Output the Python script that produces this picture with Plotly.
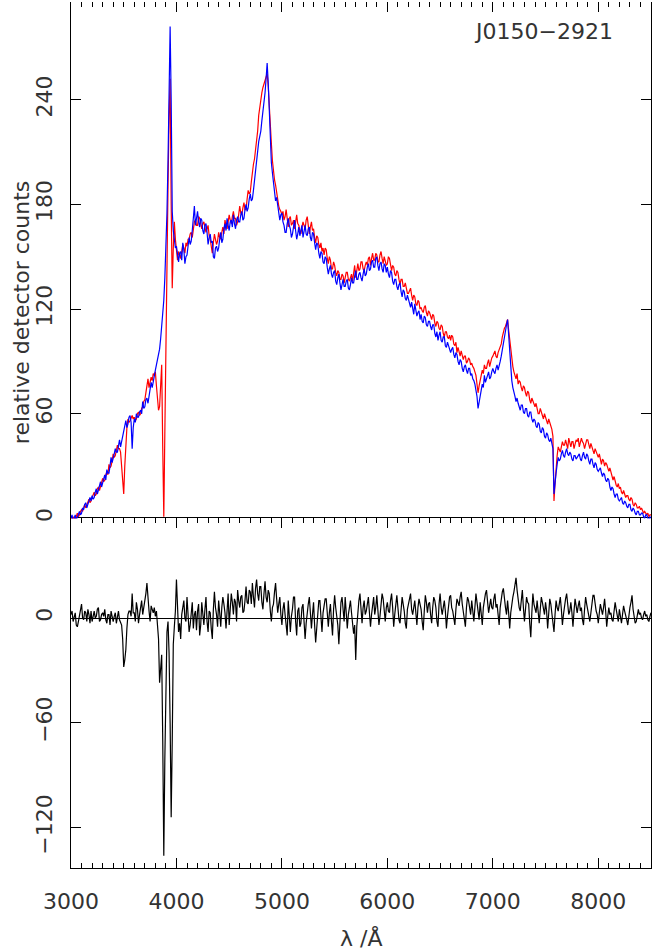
import plotly.graph_objects as go
from plotly.subplots import make_subplots

# spectrum sampled on a regular grid: 3000 Å onwards, 10 Å per sample
WAVE_START = 3000
WAVE_STEP = 10

# blue spectrum, relative detector counts (one row = 200 Å)
BLUE_COUNTS = [
    0, 2, -2, 1, 2, -1, 1, 3, 4, 2, 3, 6, 5, 8, 9, 6, 8, 11, 12, 10,
    13, 11, 12, 15, 17, 14, 16, 19, 21, 18, 20, 23, 25, 22, 28, 26, 26, 30, 35, 32,
    34, 37, 40, 38, 38, 42, 45, 41, 44, 48, 49, 53, 56, 52, 54, 58, 59, 55, 40, 52,
    57, 55, 60, 58, 58, 61, 62, 60, 67, 63, 64, 68, 69, 66, 71, 74, 78, 75, 79, 82,
    85, 88, 91, 95, 97, 103, 110, 116, 125, 138, 152, 175, 205, 250, 282, 240, 176, 165, 160, 155,
    156, 150, 147, 152, 153, 148, 158, 154, 146, 150, 151, 156, 161, 157, 159, 165, 173, 179, 168, 172,
    176, 170, 167, 172, 171, 165, 163, 168, 169, 164, 157, 161, 163, 158, 159, 150, 149, 155, 156, 153,
    155, 160, 164, 158, 160, 166, 169, 165, 172, 168, 165, 170, 171, 167, 174, 169, 166, 171, 173, 170,
    170, 174, 176, 171, 172, 177, 180, 176, 178, 183, 186, 182, 183, 188, 194, 198, 204, 210, 216, 219,
    222, 228, 233, 238, 244, 252, 261, 250, 234, 218, 204, 198, 193, 188, 182, 184, 180, 176, 171, 174,
    175, 170, 168, 164, 164, 169, 172, 168, 166, 161, 163, 167, 171, 165, 160, 163, 167, 162, 165, 168,
    161, 165, 168, 163, 162, 166, 167, 161, 159, 164, 163, 158, 154, 158, 157, 152, 149, 153, 152, 147,
    146, 150, 149, 144, 140, 143, 145, 140, 138, 141, 142, 136, 134, 138, 140, 135, 131, 134, 137, 133,
    133, 136, 137, 132, 131, 134, 138, 135, 135, 139, 142, 137, 137, 140, 141, 138, 136, 140, 143, 139,
    140, 144, 146, 142, 143, 147, 148, 144, 144, 149, 150, 145, 142, 146, 147, 143, 141, 146, 145, 141,
    144, 140, 138, 142, 141, 136, 134, 137, 137, 133, 131, 134, 135, 130, 127, 131, 130, 126, 125, 128,
    126, 123, 121, 124, 119, 117, 123, 120, 116, 118, 119, 114, 117, 113, 112, 116, 115, 111, 110, 113,
    113, 110, 108, 111, 111, 106, 104, 107, 102, 105, 107, 102, 101, 104, 104, 99, 98, 101, 99, 96,
    95, 97, 98, 94, 92, 95, 94, 90, 88, 91, 90, 86, 84, 87, 88, 85, 83, 86, 86, 82,
    83, 80, 79, 77, 74, 70, 63, 66, 71, 74, 77, 75, 82, 78, 80, 83, 84, 80, 81, 84,
    86, 84, 83, 86, 88, 85, 87, 90, 93, 97, 101, 104, 107, 111, 114, 104, 94, 86, 79, 75,
    73, 70, 67, 69, 66, 63, 62, 65, 65, 61, 60, 63, 63, 59, 58, 61, 61, 57, 55, 57,
    56, 53, 52, 55, 54, 50, 49, 52, 51, 47, 46, 49, 48, 45, 44, 46, 43, 40, 14, 22,
    26, 31, 35, 33, 34, 37, 39, 36, 35, 38, 40, 37, 36, 38, 37, 34, 33, 36, 36, 34,
    35, 36, 37, 34, 33, 36, 38, 35, 34, 37, 36, 33, 31, 34, 34, 31, 29, 32, 31, 28,
    27, 28, 29, 26, 24, 26, 25, 22, 21, 23, 22, 18, 16, 18, 17, 14, 12, 14, 14, 11,
    10, 11, 12, 9, 8, 10, 9, 7, 6, 8, 8, 5, 4, 6, 5, 3, 2, 4, 4, 2,
    2, 3, 3, 1, 0, 2, 2, 0, -1, 1, 0,
]

# red spectrum, relative detector counts (one row = 200 Å)
RED_COUNTS = [
    1, -1, 0, 1, -1, 2, 3, 1, 2, 4, 5, 4, 7, 8, 6, 8, 10, 11, 9, 10,
    12, 14, 15, 13, 14, 17, 18, 16, 19, 21, 23, 21, 22, 25, 27, 25, 31, 29, 30, 33,
    37, 35, 36, 39, 42, 40, 40, 38, 30, 20, 14, 30, 45, 52, 57, 55, 56, 58, 59, 57,
    58, 56, 57, 60, 61, 59, 60, 63, 64, 67, 68, 72, 78, 80, 75, 78, 81, 79, 83, 82,
    84, 76, 68, 62, 64, 74, 88, 40, 1, 50, 110, 150, 190, 230, 252, 180, 132, 155, 170, 160,
    152, 148, 153, 150, 149, 153, 157, 155, 152, 158, 156, 160, 160, 163, 164, 161, 166, 170, 171, 168,
    168, 173, 172, 168, 166, 169, 170, 167, 164, 166, 168, 162, 160, 156, 152, 158, 163, 160, 157, 159,
    164, 161, 160, 164, 167, 163, 171, 168, 166, 170, 174, 171, 169, 173, 176, 172, 172, 168, 170, 174,
    179, 175, 174, 178, 181, 177, 177, 183, 188, 186, 187, 193, 199, 203, 206, 211, 214, 222, 231, 236,
    240, 244, 247, 249, 251, 254, 255, 248, 239, 226, 215, 205, 198, 194, 191, 186, 181, 179, 177, 176,
    174, 176, 171, 173, 177, 170, 167, 172, 173, 168, 169, 171, 166, 170, 174, 169, 168, 165, 163, 167,
    170, 168, 166, 171, 173, 168, 163, 167, 170, 165, 166, 161, 158, 162, 161, 157, 155, 158, 153, 155,
    151, 155, 154, 149, 146, 150, 148, 143, 143, 147, 145, 141, 139, 142, 141, 137, 137, 140, 139, 135,
    138, 141, 141, 137, 136, 139, 140, 136, 142, 145, 138, 141, 146, 142, 143, 147, 147, 143, 142, 145,
    147, 145, 149, 150, 145, 149, 152, 148, 148, 152, 151, 147, 147, 151, 153, 149, 146, 150, 148, 145,
    146, 150, 149, 145, 142, 145, 144, 140, 139, 142, 141, 137, 134, 137, 137, 133, 133, 135, 131, 129,
    129, 131, 132, 128, 125, 128, 127, 123, 122, 125, 124, 120, 121, 119, 118, 121, 122, 118, 116, 119,
    118, 116, 114, 117, 116, 112, 110, 113, 112, 109, 108, 111, 110, 106, 104, 107, 107, 104, 103, 105,
    102, 105, 104, 100, 99, 101, 95, 98, 96, 93, 96, 94, 91, 93, 93, 89, 90, 92, 91, 88,
    89, 87, 86, 84, 82, 77, 72, 76, 79, 83, 85, 83, 88, 86, 86, 89, 91, 87, 90, 92,
    93, 95, 96, 93, 92, 95, 97, 99, 100, 104, 107, 109, 110, 113, 114, 108, 102, 95, 90, 87,
    84, 82, 80, 83, 77, 79, 78, 75, 73, 76, 75, 72, 70, 73, 72, 68, 66, 69, 67, 65,
    64, 66, 62, 60, 60, 63, 61, 58, 57, 60, 58, 55, 54, 57, 55, 52, 51, 47, 10, 20,
    31, 36, 41, 39, 38, 41, 44, 42, 42, 45, 43, 40, 46, 44, 41, 44, 44, 40, 42, 45,
    44, 46, 41, 43, 46, 44, 43, 40, 42, 45, 45, 42, 40, 43, 41, 38, 37, 40, 38, 36,
    35, 37, 33, 31, 34, 33, 30, 32, 31, 28, 27, 29, 26, 24, 22, 24, 21, 19, 18, 20,
    17, 18, 15, 14, 16, 14, 12, 13, 13, 11, 10, 12, 11, 8, 7, 9, 8, 6, 6, 7,
    5, 6, 4, 3, 4, 3, 2, 3, 1, 2, 2,
]

# lower panel: residual counts (one row = 200 Å)
RESIDUAL = [
    2, 4, -2, 1, 3, -4, -5, -2, 1, 3, 8, 0, -1, 4, 3, -2, 5, 2, -3, 4,
    -2, 1, 4, 0, 1, 5, 6, -2, -1, 2, 3, 1, 5, -1, -3, 2, 2, -4, 4, 1,
    -2, 1, 3, -3, 1, 4, -1, -3, -4, -12, -28, -24, -18, -6, 2, 4, 4, 1, 14, 3,
    3, -2, 9, 5, -3, 2, 6, 10, 2, 6, 8, 14, 20, 9, 4, -2, 7, 5, 3, 6,
    1, 4, -5, -12, -37, -30, -21, -70, -136, -80, -30, -8, -2, -20, -60, -114, -70, -15, -5, 4,
    22, 6, -8, -3, -12, 2, 5, 10, 0, -2, 12, 3, -8, -4, 6, 9, -6, 2, 4, -7,
    4, 8, -10, -4, 9, 3, -4, 5, 12, -2, -8, 4, 3, -6, -12, 5, 15, 6, 2, -5,
    10, 3, -5, 6, 12, 8, 3, -6, 8, 14, -4, 5, 14, 9, 2, 11, 9, -2, 16, 10,
    6, 12, 13, 3, 4, 10, 18, 9, 8, 16, 15, 8, 20, 12, 6, 17, 22, 14, 10, 18,
    18, 9, 5, 14, 21, 12, 9, 16, 14, 4, -2, 6, 8, 15, 20, 11, 3, 8, 12, 2,
    -4, 5, 9, 2, -6, -10, 10, 3, -8, 1, 5, 12, 12, -2, -10, 4, 6, -5, -3, 6,
    8, -2, -12, -3, 5, 8, 12, 3, -6, 2, 9, -4, -14, -6, 4, 10, 10, -1, -8, 3,
    6, 11, 11, 2, -5, 3, 8, -2, -10, 5, 13, 6, 2, -4, -15, -4, 9, 12, 4, -2,
    12, 3, -6, 2, 8, 10, 3, -3, -9, -4, -24, -5, 6, 10, 14, 4, -3, 6, 10, 2,
    4, 8, 12, 3, -5, 2, 9, 12, 2, 6, 13, 4, -4, 1, 8, 14, 11, 3, -2, 6,
    9, 4, 3, 10, 14, 6, -5, 2, 10, 13, 6, -1, -3, 5, 12, 8, 4, -3, -6, 5,
    8, 12, 14, 5, 2, 6, 10, 3, -4, 6, 11, 8, 5, -2, -7, 4, 13, 9, 3, 8,
    9, 2, -3, 6, 12, 10, 6, -2, -5, 8, 14, 6, 2, 6, 10, 4, -6, 1, 8, 12,
    13, 6, 4, -2, -4, 5, 11, 9, 7, 12, 15, 8, 3, -2, -5, 6, 12, 10, 6, 2,
    10, 4, -2, 6, 14, 9, 5, -1, 9, 3, -4, 6, 12, 14, 16, 8, 3, 7, 11, 6,
    5, 11, 14, 6, 8, 2, -4, 6, 12, 15, 17, 10, 6, 2, 10, 3, -6, 3, 9, 12,
    15, 20, 23, 16, 10, 6, 4, 11, 16, 6, -2, 5, 12, 9, 8, -3, -11, 3, 14, 8,
    6, 3, 10, 4, -3, 5, 12, 9, 5, 2, 9, 4, -6, 3, 11, 8, 3, -4, -8, 2,
    10, 6, 4, 8, 12, 5, -4, 2, 8, 11, 14, 7, 2, 4, 9, 3, -5, 4, 11, 7,
    3, 7, 10, 4, 6, -1, -4, 5, 12, 8, 5, 1, -2, 3, 9, 13, 13, 6, 4, 2,
    -3, 3, 8, 5, 2, 6, 11, 4, -5, 1, 6, 2, 3, -1, -2, 4, 9, 5, 1, -2,
    5, 2, -3, 2, 7, 4, 2, -1, -4, 3, 6, 9, 13, 5, 1, -3, -2, 3, 5, 2,
    3, 0, -1, 2, 4, 1, 2, -1, -2, 1, 3,
]

TOP_TICKS = [0, 60, 120, 180, 240]
BOTTOM_TICKS = [-120, -60, 0]
X_RANGE = [3000, 8500]

INK = "#000000"
TEXT = "#333333"
FONT = "DejaVu Sans"

fig = make_subplots(rows=2, cols=1, vertical_spacing=0, row_heights=[517, 350])

# upper panel spectra live on an overlaying x axis whose ticks sit on the top frame edge
fig.add_trace(go.Scatter(x0=WAVE_START, dx=WAVE_STEP, y=RED_COUNTS, mode="lines",
                         line=dict(color="#ff0000", width=1.2), xaxis="x3", yaxis="y"))
fig.add_trace(go.Scatter(x0=WAVE_START, dx=WAVE_STEP, y=BLUE_COUNTS, mode="lines",
                         line=dict(color="#0000ff", width=1.2), xaxis="x3", yaxis="y"))
fig.add_trace(go.Scatter(x0=WAVE_START, dx=WAVE_STEP, y=RESIDUAL, mode="lines",
                         line=dict(color=INK, width=1.2)), row=2, col=1)

fig.update_layout(
    width=652, height=952,
    paper_bgcolor="white", plot_bgcolor="white",
    font=dict(family=FONT, color=TEXT, size=22),
    margin=dict(l=71, r=1, t=2, b=84),
    showlegend=False,
)

# upper panel frame: plain lines top and bottom, no ticks of its own
fig.update_xaxes(range=X_RANGE, showline=True, linecolor=INK, mirror=True, ticks="",
                 showticklabels=False, showgrid=False, zeroline=False,
                 automargin=False, row=1, col=1)
# lower panel: major + minor ticks on both horizontal edges (the shared edge points down)
fig.update_xaxes(range=X_RANGE, showline=True, linecolor=INK, mirror="ticks",
                 ticks="inside", tickcolor=INK, ticklen=10, tickmode="linear",
                 tick0=3000, dtick=1000, ticklabelstandoff=14,
                 minor=dict(ticks="inside", ticklen=5, dtick=100, tickcolor=INK),
                 showgrid=False, zeroline=False, automargin=False, row=2, col=1)
fig.update_layout(xaxis3=dict(
    range=X_RANGE, overlaying="x", anchor="y", side="top", showline=False,
    ticks="inside", tickcolor=INK, ticklen=10, tickmode="linear", tick0=3000, dtick=1000,
    minor=dict(ticks="inside", ticklen=5, dtick=100, tickcolor=INK),
    showticklabels=False, showgrid=False, zeroline=False, automargin=False,
))

fig.update_yaxes(showline=True, linecolor=INK, mirror="ticks", ticks="inside",
                 tickcolor=INK, ticklen=10, tickangle=-90, ticklabelstandoff=9,
                 showgrid=False, automargin=False)
fig.update_yaxes(range=[0, 296], tickvals=TOP_TICKS, zeroline=False, row=1, col=1)
fig.update_yaxes(range=[-143, 57], tickvals=BOTTOM_TICKS, zeroline=True,
                 zerolinecolor=INK, zerolinewidth=1, row=2, col=1)

fig.add_annotation(text="relative detector counts", textangle=-90, showarrow=False,
                   xref="paper", yref="paper", x=-0.084, y=0.641,
                   xanchor="center", yanchor="middle")
fig.add_annotation(text="λ /Å", showarrow=False, xref="paper", yref="paper",
                   x=0.5, y=-0.081, xanchor="center", yanchor="middle")
fig.add_annotation(text="J0150−2921", showarrow=False, xref="paper", yref="paper",
                   x=0.814, y=0.966, xanchor="center", yanchor="middle")

fig.write_html("out.html", config={"displayModeBar": False},
               post_script="document.body.style.margin='0';")
